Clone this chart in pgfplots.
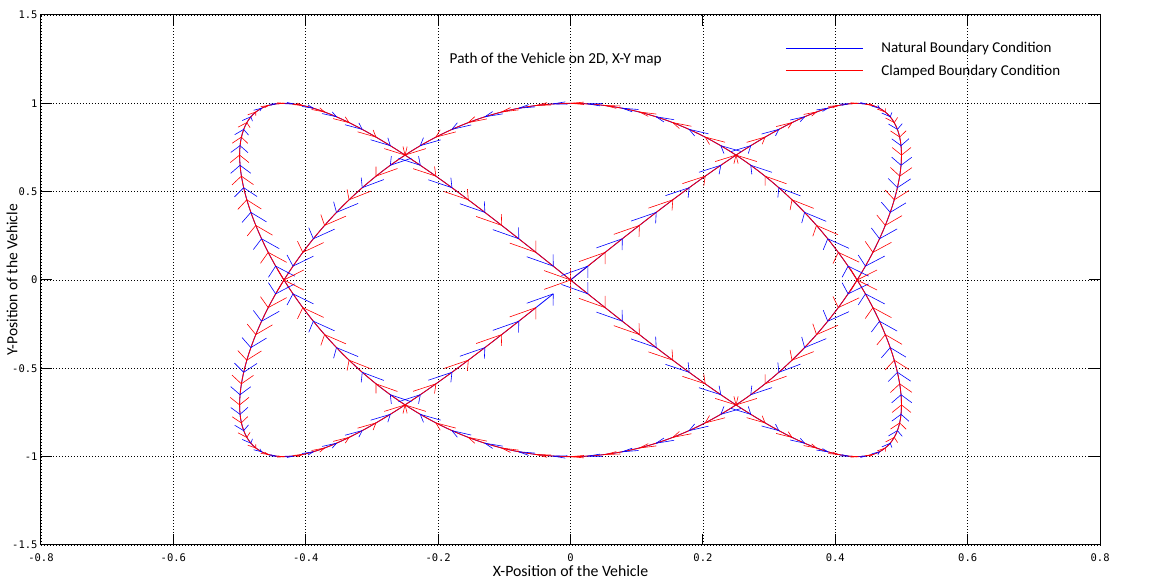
\documentclass[border=0pt]{standalone}
\usepackage{fontspec}
\setmainfont{Carlito}
\newfontfamily\tickfont{DejaVu Sans Mono}
\usepackage{pgfplots}
\usepackage{pgfplotstable}
\pgfplotsset{compat=1.18}

% clamped spline samples: position (x,y) and velocity (vx,vy)
\pgfplotstableread{
x y vx vy
0 0 1 3
0.0523 0.1564 0.9945 2.963
0.1040 0.3090 0.9781 2.853
0.1545 0.4540 0.9511 2.673
0.2034 0.5878 0.9135 2.427
0.2500 0.7071 0.8660 2.121
0.2939 0.8090 0.8090 1.763
0.3346 0.8910 0.7431 1.362
0.3716 0.9511 0.6691 0.927
0.4045 0.9877 0.5878 0.469
0.4330 1 0.5 0
0.4568 0.9877 0.4067 -0.469
0.4755 0.9511 0.3090 -0.927
0.4891 0.8910 0.2079 -1.362
0.4973 0.8090 0.1045 -1.763
0.5 0.7071 0 -2.121
0.4973 0.5878 -0.1045 -2.427
0.4891 0.4540 -0.2079 -2.673
0.4755 0.3090 -0.3090 -2.853
0.4568 0.1564 -0.4067 -2.963
0.4330 0 -0.5 -3
0.4045 -0.1564 -0.5878 -2.963
0.3716 -0.3090 -0.6691 -2.853
0.3346 -0.4540 -0.7431 -2.673
0.2939 -0.5878 -0.8090 -2.427
0.25 -0.7071 -0.8660 -2.121
0.2034 -0.8090 -0.9135 -1.763
0.1545 -0.8910 -0.9511 -1.362
0.1040 -0.9511 -0.9781 -0.927
0.0523 -0.9877 -0.9945 -0.469
0 -1 -1 0
-0.0523 -0.9877 -0.9945 0.469
-0.1040 -0.9511 -0.9781 0.927
-0.1545 -0.8910 -0.9511 1.362
-0.2034 -0.8090 -0.9135 1.763
-0.25 -0.7071 -0.8660 2.121
-0.2939 -0.5878 -0.8090 2.427
-0.3346 -0.4540 -0.7431 2.673
-0.3716 -0.3090 -0.6691 2.853
-0.4045 -0.1564 -0.5878 2.963
-0.4330 0 -0.5 3
-0.4568 0.1564 -0.4067 2.963
-0.4755 0.3090 -0.3090 2.853
-0.4891 0.4540 -0.2079 2.673
-0.4973 0.5878 -0.1045 2.427
-0.5 0.7071 0 2.121
-0.4973 0.8090 0.1045 1.763
-0.4891 0.8910 0.2079 1.362
-0.4755 0.9511 0.3090 0.927
-0.4568 0.9877 0.4067 0.469
-0.4330 1 0.5 0
-0.4045 0.9877 0.5878 -0.469
-0.3716 0.9511 0.6691 -0.927
-0.3346 0.8910 0.7431 -1.362
-0.2939 0.8090 0.8090 -1.763
-0.25 0.7071 0.8660 -2.121
-0.2034 0.5878 0.9135 -2.427
-0.1545 0.4540 0.9511 -2.673
-0.1040 0.3090 0.9781 -2.853
-0.0523 0.1564 0.9945 -2.963
0 0 1 -3
0.0523 -0.1564 0.9945 -2.963
0.1040 -0.3090 0.9781 -2.853
0.1545 -0.4540 0.9511 -2.673
0.2034 -0.5878 0.9135 -2.427
0.25 -0.7071 0.8660 -2.121
0.2939 -0.8090 0.8090 -1.763
0.3346 -0.8910 0.7431 -1.362
0.3716 -0.9511 0.6691 -0.927
0.4045 -0.9877 0.5878 -0.469
0.4330 -1 0.5 0
0.4568 -0.9877 0.4067 0.469
0.4755 -0.9511 0.3090 0.927
0.4891 -0.8910 0.2079 1.362
0.4973 -0.8090 0.1045 1.763
0.5 -0.7071 0 2.121
0.4973 -0.5878 -0.1045 2.427
0.4891 -0.4540 -0.2079 2.673
0.4755 -0.3090 -0.3090 2.853
0.4568 -0.1564 -0.4067 2.963
0.4330 0 -0.5 3
0.4045 0.1564 -0.5878 2.963
0.3716 0.3090 -0.6691 2.853
0.3346 0.4540 -0.7431 2.673
0.2939 0.5878 -0.8090 2.427
0.25 0.7071 -0.8660 2.121
0.2034 0.8090 -0.9135 1.763
0.1545 0.8910 -0.9511 1.362
0.1040 0.9511 -0.9781 0.927
0.0523 0.9877 -0.9945 0.469
0 1 -1 0
-0.0523 0.9877 -0.9945 -0.469
-0.1040 0.9511 -0.9781 -0.927
-0.1545 0.8910 -0.9511 -1.362
-0.2034 0.8090 -0.9135 -1.763
-0.25 0.7071 -0.8660 -2.121
-0.2939 0.5878 -0.8090 -2.427
-0.3346 0.4540 -0.7431 -2.673
-0.3716 0.3090 -0.6691 -2.853
-0.4045 0.1564 -0.5878 -2.963
-0.4330 0 -0.5 -3
-0.4568 -0.1564 -0.4067 -2.963
-0.4755 -0.3090 -0.3090 -2.853
-0.4891 -0.4540 -0.2079 -2.673
-0.4973 -0.5878 -0.1045 -2.427
-0.5 -0.7071 0 -2.121
-0.4973 -0.8090 0.1045 -1.763
-0.4891 -0.8910 0.2079 -1.362
-0.4755 -0.9511 0.3090 -0.927
-0.4568 -0.9877 0.4067 -0.469
-0.4330 -1 0.5 0
-0.4045 -0.9877 0.5878 0.469
-0.3716 -0.9511 0.6691 0.927
-0.3346 -0.8910 0.7431 1.362
-0.2939 -0.8090 0.8090 1.763
-0.25 -0.7071 0.8660 2.121
-0.2034 -0.5878 0.9135 2.427
-0.1545 -0.4540 0.9511 2.673
-0.1040 -0.3090 0.9781 2.853
-0.0523 -0.1564 0.9945 2.963
}\redtab

% natural spline samples: position (x,y) and velocity (vx,vy)
\pgfplotstableread{
x y vx vy
0.0262 0.0785 0.9986 2.991
0.0782 0.2334 0.9877 2.917
0.1294 0.3827 0.9659 2.772
0.1792 0.5225 0.9336 2.558
0.2270 0.6494 0.8910 2.281
0.2723 0.7604 0.8387 1.948
0.3147 0.8526 0.7771 1.568
0.3536 0.9239 0.7071 1.148
0.3886 0.9724 0.6293 0.700
0.4193 0.9969 0.5446 0.235
0.4455 0.9969 0.4540 -0.235
0.4668 0.9724 0.3584 -0.700
0.4830 0.9239 0.2588 -1.148
0.4938 0.8526 0.1564 -1.568
0.4993 0.7604 0.0523 -1.948
0.4993 0.6494 -0.0523 -2.281
0.4938 0.5225 -0.1564 -2.558
0.4830 0.3827 -0.2588 -2.772
0.4668 0.2334 -0.3584 -2.917
0.4455 0.0785 -0.4540 -2.991
0.4193 -0.0785 -0.5446 -2.991
0.3886 -0.2334 -0.6293 -2.917
0.3536 -0.3827 -0.7071 -2.772
0.3147 -0.5225 -0.7771 -2.558
0.2723 -0.6494 -0.8387 -2.281
0.2270 -0.7604 -0.8910 -1.948
0.1792 -0.8526 -0.9336 -1.568
0.1294 -0.9239 -0.9659 -1.148
0.0782 -0.9724 -0.9877 -0.700
0.0262 -0.9969 -0.9986 -0.235
-0.0262 -0.9969 -0.9986 0.235
-0.0782 -0.9724 -0.9877 0.700
-0.1294 -0.9239 -0.9659 1.148
-0.1792 -0.8526 -0.9336 1.568
-0.2270 -0.7604 -0.8910 1.948
-0.2723 -0.6494 -0.8387 2.281
-0.3147 -0.5225 -0.7771 2.558
-0.3536 -0.3827 -0.7071 2.772
-0.3886 -0.2334 -0.6293 2.917
-0.4193 -0.0785 -0.5446 2.991
-0.4455 0.0785 -0.4540 2.991
-0.4668 0.2334 -0.3584 2.917
-0.4830 0.3827 -0.2588 2.772
-0.4938 0.5225 -0.1564 2.558
-0.4993 0.6494 -0.0523 2.281
-0.4993 0.7604 0.0523 1.948
-0.4938 0.8526 0.1564 1.568
-0.4830 0.9239 0.2588 1.148
-0.4668 0.9724 0.3584 0.700
-0.4455 0.9969 0.4540 0.235
-0.4193 0.9969 0.5446 -0.235
-0.3886 0.9724 0.6293 -0.700
-0.3536 0.9239 0.7071 -1.148
-0.3147 0.8526 0.7771 -1.568
-0.2723 0.7604 0.8387 -1.948
-0.2270 0.6494 0.8910 -2.281
-0.1792 0.5225 0.9336 -2.558
-0.1294 0.3827 0.9659 -2.772
-0.0782 0.2334 0.9877 -2.917
-0.0262 0.0785 0.9986 -2.991
0.0262 -0.0785 0.9986 -2.991
0.0782 -0.2334 0.9877 -2.917
0.1294 -0.3827 0.9659 -2.772
0.1792 -0.5225 0.9336 -2.558
0.2270 -0.6494 0.8910 -2.281
0.2723 -0.7604 0.8387 -1.948
0.3147 -0.8526 0.7771 -1.568
0.3536 -0.9239 0.7071 -1.148
0.3886 -0.9724 0.6293 -0.700
0.4193 -0.9969 0.5446 -0.235
0.4455 -0.9969 0.4540 0.235
0.4668 -0.9724 0.3584 0.700
0.4830 -0.9239 0.2588 1.148
0.4938 -0.8526 0.1564 1.568
0.4993 -0.7604 0.0523 1.948
0.4993 -0.6494 -0.0523 2.281
0.4938 -0.5225 -0.1564 2.558
0.4830 -0.3827 -0.2588 2.772
0.4668 -0.2334 -0.3584 2.917
0.4455 -0.0785 -0.4540 2.991
0.4193 0.0785 -0.5446 2.991
0.3886 0.2334 -0.6293 2.917
0.3536 0.3827 -0.7071 2.772
0.3147 0.5225 -0.7771 2.558
0.2723 0.6494 -0.8387 2.281
0.2270 0.7604 -0.8910 1.948
0.1792 0.8526 -0.9336 1.568
0.1294 0.9239 -0.9659 1.148
0.0782 0.9724 -0.9877 0.700
0.0262 0.9969 -0.9986 0.235
-0.0262 0.9969 -0.9986 -0.235
-0.0782 0.9724 -0.9877 -0.700
-0.1294 0.9239 -0.9659 -1.148
-0.1792 0.8526 -0.9336 -1.568
-0.2270 0.7604 -0.8910 -1.948
-0.2723 0.6494 -0.8387 -2.281
-0.3147 0.5225 -0.7771 -2.558
-0.3536 0.3827 -0.7071 -2.772
-0.3886 0.2334 -0.6293 -2.917
-0.4193 0.0785 -0.5446 -2.991
-0.4455 -0.0785 -0.4540 -2.991
-0.4668 -0.2334 -0.3584 -2.917
-0.4830 -0.3827 -0.2588 -2.772
-0.4938 -0.5225 -0.1564 -2.558
-0.4993 -0.6494 -0.0523 -2.281
-0.4993 -0.7604 0.0523 -1.948
-0.4938 -0.8526 0.1564 -1.568
-0.4830 -0.9239 0.2588 -1.148
-0.4668 -0.9724 0.3584 -0.700
-0.4455 -0.9969 0.4540 -0.235
-0.4193 -0.9969 0.5446 0.235
-0.3886 -0.9724 0.6293 0.700
-0.3536 -0.9239 0.7071 1.148
-0.3147 -0.8526 0.7771 1.568
-0.2723 -0.7604 0.8387 1.948
-0.2270 -0.6494 0.8910 2.281
-0.1792 -0.5225 0.9336 2.558
-0.1294 -0.3827 0.9659 2.772
-0.0782 -0.2334 0.9877 2.917
-0.0262 -0.0785 0.9986 2.991
}\bluetab

\begin{document}
\begin{tikzpicture}
\useasboundingbox (-41pt,-43pt) rectangle (1109pt,545pt);
\begin{axis}[
  scale only axis, width=1059pt, height=530pt,
  xmin=-0.8, xmax=0.8, ymin=-1.5, ymax=1.5,
  xtick={-0.8,-0.6,-0.4,-0.2,0,0.2,0.4,0.6,0.8},
  ytick={-1.5,-1,-0.5,0,0.5,1,1.5},
  grid=major,
  grid style={black, line width=0.8pt, dash pattern=on 0.8pt off 2.2pt},
  axis line style={black, line width=1pt},
  tick align=inside, major tick length=11pt,
  tick style={black, line width=1pt},
  ticklabel style={font=\tickfont\fontsize{10.5}{12}\selectfont},
  /pgf/number format/assume math mode=true,
  xticklabel style={yshift=-5pt},
  xlabel={X-Position of the Vehicle},
  xlabel style={at={(axis description cs:0.5,-0.049)}, anchor=center, font=\fontsize{15.8}{18}\selectfont},
  ylabel={Y-Position of the Vehicle},
  ylabel style={at={(axis description cs:-0.0274,0.5)}, anchor=center, font=\fontsize{15.5}{18}\selectfont},
  title={Path of the Vehicle on 2D, X-Y map},
  title style={at={(axis description cs:0.486,0.9057)}, anchor=center, font=\fontsize{15.2}{18}\selectfont},
  legend style={at={(axis description cs:0.7026,0.953)}, anchor=north west, draw=none, fill=none,
    inner sep=0pt, font=\fontsize{15}{17}\selectfont, row sep=7pt, column sep=16pt},
  legend cell align=left,
  legend image code/.code={\draw[#1, line width=1pt] (0pt,0pt) -- (77pt,0pt);},
]
\addplot[blue, line width=0.8pt, smooth, no markers, legend image post style={blue}] table[x=x,y=y]{\bluetab};
\addlegendentry{Natural Boundary Condition}
\addplot[red, line width=0.8pt, smooth, no markers, legend image post style={red}] table[x=x,y=y]{\redtab};
\addlegendentry{Clamped Boundary Condition}
\addplot[blue, line width=0.8pt, forget plot] coordinates {(0,0) (0.0262,0.0785)};
% arrow heads (barbs in data space)
\addplot[blue, line width=0.6pt, forget plot, no markers,
  quiver={u={-0.02*\thisrow{vx}-0.00667*\thisrow{vy}}, v={-0.02*\thisrow{vy}+0.00667*\thisrow{vx}}}]
  table[x=x,y=y]{\bluetab};
\addplot[blue, line width=0.6pt, forget plot, no markers,
  quiver={u={-0.02*\thisrow{vx}+0.00667*\thisrow{vy}}, v={-0.02*\thisrow{vy}-0.00667*\thisrow{vx}}}]
  table[x=x,y=y]{\bluetab};
\addplot[red, line width=0.6pt, forget plot, no markers,
  quiver={u={-0.02*\thisrow{vx}-0.00667*\thisrow{vy}}, v={-0.02*\thisrow{vy}+0.00667*\thisrow{vx}}}]
  table[x=x,y=y]{\redtab};
\addplot[red, line width=0.6pt, forget plot, no markers,
  quiver={u={-0.02*\thisrow{vx}+0.00667*\thisrow{vy}}, v={-0.02*\thisrow{vy}-0.00667*\thisrow{vx}}}]
  table[x=x,y=y]{\redtab};
\end{axis}
\end{tikzpicture}
\end{document}
